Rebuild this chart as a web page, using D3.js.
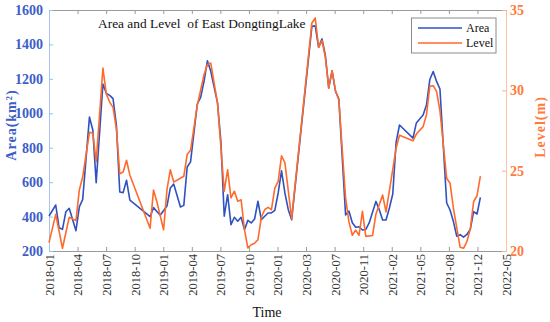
<!DOCTYPE html>
<html><head><meta charset="utf-8">
<script src="https://cdn.jsdelivr.net/npm/d3@7"></script>
<style>body{margin:0;background:#fff}svg{display:block}text{font-family:"Liberation Serif","Times New Roman",serif}</style>
</head><body><svg id="c" width="550" height="322"></svg>
<script>
const xLabels = ["2018-01","2018-04","2018-07","2018-10","2019-01","2019-04","2019-07","2019-10","2020-01","2020-03","2020-07","2020-11","2021-02","2021-05","2021-08","2021-12","2022-05"];
const areaTicks = [200,400,600,800,1000,1200,1400,1600];
const levelTicks = [20,25,30,35];
const areaIdx = [0,2,3,4,5,6,8,9,10,12,13,14,16,17,18,19,20,21,22,23,24,30,31,33,35,36,37,39,40,41,42,44,45,46,47,48,50,51,52,53,54,55,56,57,58,59,60,61,62,63,64,65,66,67,68,69,70,71,72,78,79,80,81,82,83,84,85,86,88,89,90,91,92,93,94,95,97,98,99,100,101,102,103,104,108,109,111,112,113,114,115,116,118,119,120,121,122,123,124,125,126,127,128];
const areaVal = [403,467,335,326,428,448,318,456,500,978,903,597,1170,1116,1104,1085,932,543,539,611,495,399,452,408,461,566,589,456,465,688,718,1054,1093,1186,1305,1244,1060,837,402,527,353,396,373,396,324,378,363,386,489,382,402,421,421,436,537,666,537,440,382,1505,1508,1383,1432,1337,1147,1247,1129,1083,409,432,364,338,341,322,325,363,488,440,380,380,450,531,833,932,856,944,990,1048,1196,1243,1185,1141,479,438,371,286,295,280,296,326,429,415,512];
const levelIdx = [0,2,4,6,8,9,10,12,13,14,16,17,18,19,20,21,22,23,24,30,31,32,34,35,36,37,40,41,42,44,46,47,48,50,52,53,54,55,56,57,58,59,60,61,62,63,64,65,66,67,68,69,70,72,78,79,80,81,82,83,84,85,86,88,89,90,91,92,93,94,96,97,99,100,103,104,108,109,111,112,113,114,115,116,118,119,120,122,123,124,125,126,127,128];
const levelVal = [20.52,22.28,20.17,22.10,21.89,23.80,24.62,27.39,27.33,25.56,31.39,29.77,29.27,28.94,27.59,24.80,24.92,25.65,24.72,21.42,23.80,23.07,21.32,23.80,25.06,24.29,24.65,26.02,26.27,29.06,30.97,31.60,31.70,29.21,23.72,25.06,23.30,23.72,23.09,23.19,21.33,20.19,20.39,20.48,20.70,22.10,22.57,22.72,22.57,23.92,24.34,25.93,25.48,22.01,34.19,34.50,32.68,33.10,32.06,30.15,31.22,29.98,29.40,23.3,21.81,20.98,21.30,20.98,22.47,20.91,20.96,22.29,23.48,22.43,26.41,27.20,26.86,27.28,27.74,28.47,30.26,30.29,29.93,28.73,24.53,24.22,22.66,20.23,20.17,20.59,21.37,23.08,23.44,24.66];

const X_MAX = 135.6;
const L = 49, R = 506, T = 10, B = 251;
const BLUE = "#2f52c0", ORANGE = "#ff6a2b";
const svg = d3.select("#c");
const x = d3.scaleLinear().domain([0, X_MAX]).range([L, R]);
const yA = d3.scaleLinear().domain([200, 1600]).range([B, T]);
const yL = d3.scaleLinear().domain([20, 35]).range([B, T]);
const tickPos = d3.range(xLabels.length).map(k => k * X_MAX / (xLabels.length - 1));

// bottom axis
const gb = svg.append("g").attr("transform", `translate(0,${B})`)
  .call(d3.axisBottom(x).tickValues(tickPos).tickFormat((d, i) => xLabels[i]).tickSizeInner(-4).tickSizeOuter(0).tickPadding(3));
gb.select(".domain").attr("stroke", "#9a9a9a");
gb.selectAll(".tick line").attr("stroke", "#9a9a9a");
gb.selectAll(".tick text").attr("transform", "rotate(-90)").attr("x", -3).attr("y", 0).attr("dy", "0.35em")
  .style("text-anchor", "end").style("font-size", "12.5px").attr("fill", "#333");
// top axis
const gt = svg.append("g").attr("transform", `translate(0,${T})`)
  .call(d3.axisTop(x).tickValues(tickPos).tickFormat("").tickSizeInner(-4).tickSizeOuter(0));
gt.select(".domain").attr("stroke", "#9a9a9a");
gt.selectAll(".tick line").attr("stroke", "#9a9a9a");
// left axis
const gl = svg.append("g").attr("transform", `translate(${L},0)`)
  .call(d3.axisLeft(yA).tickValues(areaTicks).tickFormat(d3.format("d")).tickSizeInner(-4).tickSizeOuter(0).tickPadding(6));
gl.select(".domain").attr("stroke", "#a9c2ee");
gl.selectAll(".tick line").attr("stroke", "#8cc4f0");
gl.selectAll(".tick text").style("font-size", "14px").style("font-weight", "bold").attr("fill", "#3d5ec6");
// right axis
const gr = svg.append("g").attr("transform", `translate(${R},0)`)
  .call(d3.axisRight(yL).tickValues(levelTicks).tickFormat(d3.format("d")).tickSizeInner(-4).tickSizeOuter(0).tickPadding(4));
gr.select(".domain").attr("stroke", "#ffc2a4");
gr.selectAll(".tick line").attr("stroke", "#ffb08a");
gr.selectAll(".tick text").style("font-size", "14px").style("font-weight", "bold").attr("fill", "#ff7a3d");

// lines
const areaData = d3.zip(areaIdx, areaVal);
const levelData = d3.zip(levelIdx, levelVal);
svg.append("path").datum(areaData).attr("fill", "none").attr("stroke", BLUE).attr("stroke-width", 1.6)
  .attr("stroke-linejoin", "round").attr("d", d3.line().x(d => x(d[0])).y(d => yA(d[1])));
svg.append("path").datum(levelData).attr("fill", "none").attr("stroke", ORANGE).attr("stroke-width", 1.6)
  .attr("stroke-linejoin", "round").attr("d", d3.line().x(d => x(d[0])).y(d => yL(d[1])));

// title
svg.append("text").attr("x", 98).attr("y", 28).style("font-size", "13.4px").style("white-space", "pre")
  .attr("fill", "#111").text("Area and Level  of East DongtingLake");

// axis titles
svg.append("text").attr("transform", "translate(16,125) rotate(-90)").attr("text-anchor", "middle")
  .style("font-size", "14px").style("font-weight", "bold").style("letter-spacing", "1px").attr("fill", "#3d5ec6").text("Area(km²)");
svg.append("text").attr("transform", "translate(545,127) rotate(-90)").attr("text-anchor", "middle")
  .style("font-size", "14px").style("font-weight", "bold").style("letter-spacing", "1px").attr("fill", "#ff7a3d").text("Level(m)");
svg.append("text").attr("x", 267).attr("y", 317).attr("text-anchor", "middle").style("font-size", "14px").attr("fill", "#111").text("Time");

// legend
const lg = svg.append("g");
lg.append("rect").attr("x", 411.5).attr("y", 18).attr("width", 84.5).attr("height", 35).attr("fill", "#fff").attr("stroke", "#8c8c8c");
const items = [["Area", BLUE], ["Level", ORANGE]];
items.forEach((it, i) => {
  const yy = 28 + i * 15;
  lg.append("line").attr("x1", 418).attr("x2", 462).attr("y1", yy).attr("y2", yy).attr("stroke", it[1]).attr("stroke-width", 1.6);
  lg.append("text").attr("x", 466).attr("y", yy + 4).style("font-size", "12px").attr("fill", "#111").text(it[0]);
});
</script></body></html>
